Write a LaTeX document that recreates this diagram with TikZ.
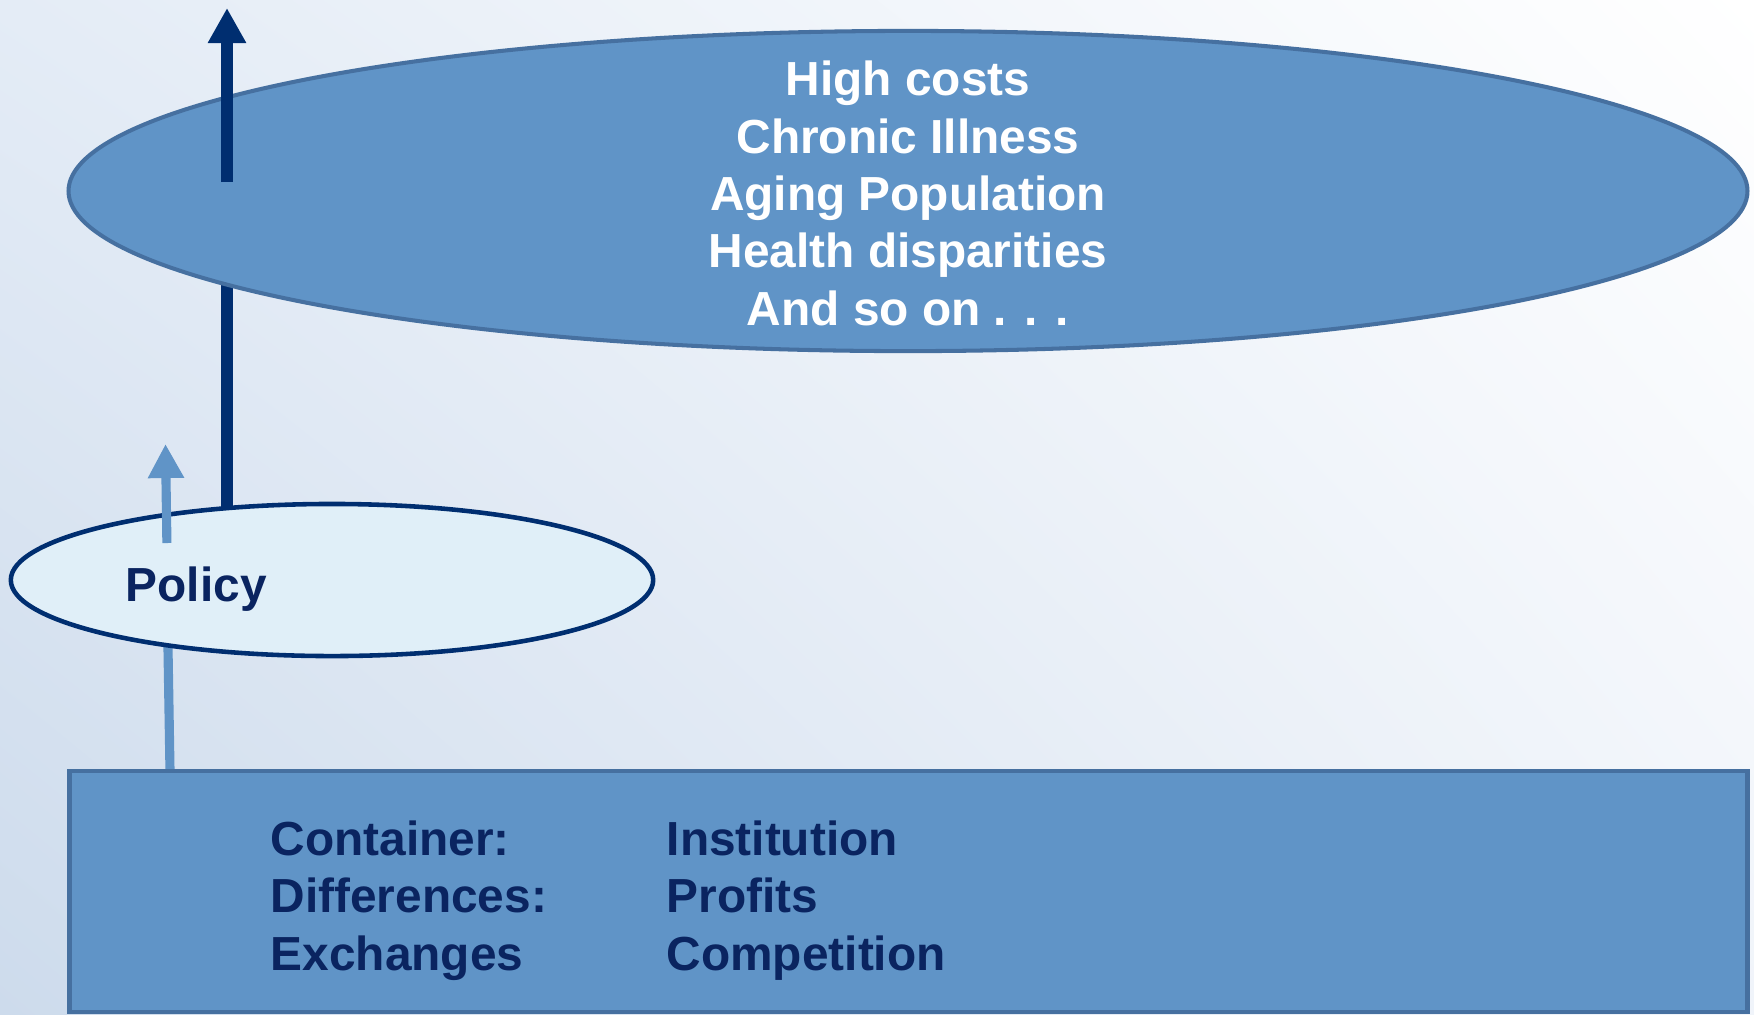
\documentclass[tikz,border=0pt]{standalone}
\usepackage{fontspec}
\setmainfont{Liberation Sans}
\usetikzlibrary{shapes.geometric,arrows.meta,shadings}
\definecolor{fillblue}{RGB}{96,148,199}
\definecolor{edgeblue}{RGB}{70,112,160}
\definecolor{navy}{RGB}{0,46,112}
\definecolor{textnavy}{RGB}{10,36,96}
\definecolor{paleblue}{RGB}{224,239,248}
\definecolor{bgbl}{RGB}{205,219,236}
\definecolor{bgtl}{RGB}{228,236,246}
\definecolor{bgbr}{RGB}{240,244,250}
\pgfdeclarelayer{bg}
\pgfdeclarelayer{back}
\pgfsetlayers{bg,back,main}
\tikzset{
  bigtext/.style={font=\fontsize{13.6}{16.3}\selectfont\bfseries},
  issuesnode/.style={ellipse, draw=edgeblue, fill=fillblue, line width=1.15pt, inner sep=0pt,
    minimum width=16.78cm, minimum height=3.2cm},
  policynode/.style={ellipse, draw=navy, fill=paleblue, line width=1.3pt, inner sep=0pt,
    minimum width=6.42cm, minimum height=1.52cm},
  boxnode/.style={rectangle, draw=edgeblue, fill=fillblue, line width=1.15pt, inner sep=0pt,
    minimum width=16.77cm, minimum height=2.41cm},
  whitetext/.style={text=white, bigtext, inner sep=0pt, align=center},
  navytext/.style={text=textnavy, bigtext, inner sep=0pt, align=left},
  darkline/.style={draw=navy, line width=3.4pt},
  darkarrow/.style={darkline, -{Triangle[length=0.35cm,width=0.36cm]}},
  lightline/.style={draw=fillblue, line width=2.6pt},
  lightarrow/.style={lightline, -{Triangle[length=0.34cm,width=0.34cm]}},
}
\begin{document}
\begin{tikzpicture}[x=0.01cm,y=-0.01cm]
\useasboundingbox (0,0) rectangle (1754,1014);
\begin{pgfonlayer}{bg}
\shade[upper left=bgtl, upper right=white, lower left=bgbl, lower right=bgbr] (0,0) rectangle (1754,1014);
\end{pgfonlayer}

\node[issuesnode] (issues) at (908,191) {};
\node[whitetext, anchor=base] (issueslabel) at (908,325) {High costs\\Chronic Illness\\Aging Population\\Health disparities\\And so on . . .};
\node[policynode] (policy) at (332,580) {};
\node[navytext, anchor=base west] (policylabel) at (125,601) {Policy};
\node[boxnode] (market) at (908.5,891.5) {};
\node[navytext, anchor=base west] (col1) at (270,970) {Container:\\Differences:\\Exchanges};
\node[navytext, anchor=base west] (col2) at (666,970) {Institution\\Profits\\Competition};

\coordinate (darkx) at (227,0);
\coordinate (darkStart) at (227,182);
\coordinate (darkTip) at (227,8);
\coordinate (lightBottom) at (170,771);
\coordinate (lightStart) at (166.9,543);
\coordinate (lightTip) at (165.5,444);

\begin{pgfonlayer}{back}
\draw[darkline] (policy.center -| darkx) -- (issues.center -| darkx);
\draw[lightline] (lightBottom) -- (policy.center -| lightStart);
\end{pgfonlayer}

\draw[darkarrow] (darkStart) -- (darkTip);
\draw[lightarrow] (lightStart) -- (lightTip);
\end{tikzpicture}
\end{document}
